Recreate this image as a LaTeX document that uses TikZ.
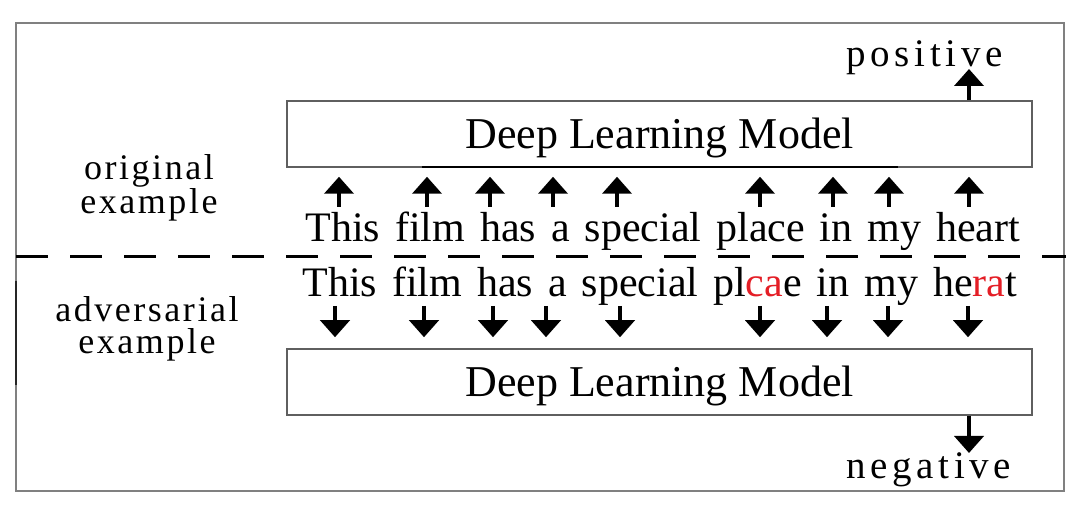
\documentclass[tikz,border=0pt]{standalone}
\usepackage{fontspec}
\setmainfont{Liberation Serif}
\newfontfamily\spacedfont[LetterSpace=7]{Liberation Serif}
\newfontfamily\widefont[LetterSpace=12]{Liberation Serif}
\usetikzlibrary{arrows.meta,positioning}
\definecolor{framegray}{RGB}{128,128,128}
\definecolor{boxgray}{RGB}{95,95,95}
\definecolor{advred}{RGB}{228,30,38}
\newcommand{\wordspaced}{\spaceskip=7.5pt\relax}

\begin{document}
\begin{tikzpicture}
		[x=0.5pt,y=-0.5pt,
		main node/.style={draw=none,fill=none,inner sep=0pt,font={\fontsize{21}{26}\selectfont\wordspaced}},
		label node/.style={draw=none,fill=none,inner sep=0pt,align=center,font=\spacedfont\fontsize{18}{16}\selectfont},
		class node/.style={draw=none,fill=none,inner sep=0pt,font=\widefont\fontsize{19.5}{22}\selectfont},
		model node/.style={draw=boxgray,line width=0.75pt,minimum width=372.5pt,minimum height=33pt,inner sep=0pt,text height=14.6pt,text depth=0pt,font=\fontsize{22}{26}\selectfont},
		arrow line/.style={line width=2pt,-{Triangle[length=8.5pt,width=14.5pt]}}]
		\useasboundingbox (0,0) rectangle (1080,517);
		
		\draw[framegray,line width=1pt] (16,23) rectangle (1064,491);
		\draw[black!85,line width=1pt] (16,281) -- (16,385);
		\draw[line width=1.5pt,dash pattern=on 16pt off 11pt] (16,257) -- (1066,257);
		
		\node[model node] (a) at (659.5,134) {Deep Learning Model};
		\node[model node] (b) at (659.5,382) {Deep Learning Model};
		\draw[black,line width=0.9pt] (422,167) -- (898,167);
		
		\node[main node,anchor=base west] (1) at (305,242) {This film has a special place in my heart};
		\node[main node,anchor=base west] (2) at (302,297) {This film has a special pl\textcolor{advred}{ca}e in my he\textcolor{advred}{ra}t};
		
		\node[label node,anchor=base] (3) at (149,214) {original\\example};
		\node[label node,anchor=base] (4) at (147,354) {adversarial\\example};
		
		\node[class node,anchor=base west] (5) at (846,67) {positive};
		\node[class node,anchor=base west] (6) at (846,479) {negative};
		
		\foreach \x [count=\i] in {339,427,490,553,617,760,833,889,969} {
			\coordinate (u\i) at (\x,207);
			\draw[arrow line,shorten >=4.5pt] (u\i) -- (u\i |- a.south);
		}
		\foreach \x [count=\i] in {335,424,493,546,620,760,827,888,968} {
			\coordinate (d\i) at (\x,306);
			\draw[arrow line,shorten >=5.5pt] (d\i) -- (d\i |- b.north);
		}
		
		\coordinate (o1) at (969,69);
		\coordinate (o2) at (969,453);
		\draw[arrow line] (o1 |- a.north) -- (o1);
		\draw[arrow line] (o2 |- b.south) -- (o2);
\end{tikzpicture}
\end{document}
